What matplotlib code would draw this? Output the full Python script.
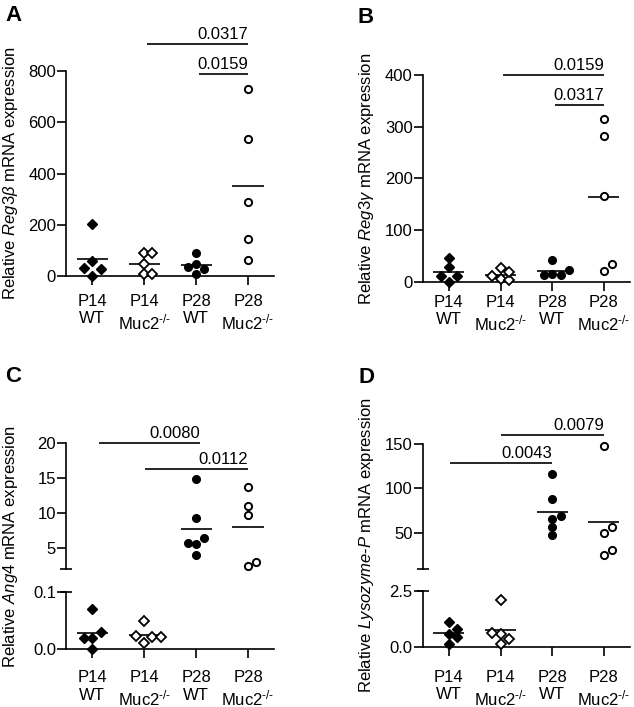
import numpy as np
import matplotlib
matplotlib.use('Agg')
import matplotlib.pyplot as plt

plt.rcParams['font.family'] = ['Liberation Sans', 'DejaVu Sans']
plt.rcParams['mathtext.fontset'] = 'custom'
plt.rcParams['mathtext.rm'] = 'Liberation Sans'
plt.rcParams['mathtext.it'] = 'Liberation Sans:italic'
plt.rcParams['mathtext.bf'] = 'Liberation Sans:bold'
plt.rcParams['mathtext.sf'] = 'Liberation Sans'

# ---------------- data ----------------
groups = ['P14\nWT', 'P14\nMuc2$^{\\text{-/-}}$', 'P28\nWT', 'P28\nMuc2$^{\\text{-/-}}$']

reg3b_p14_wt = [204, 61, 1, 27, 34]
reg3b_p14_ko = [89, 89, 48, 8, 10]
reg3b_p28_wt = [92, 48, 8, 30, 35]
reg3b_p28_ko = [729, 536, 288, 145, 62]

reg3g_p14_wt = [28, 0, 12, 12, 45]
reg3g_p14_ko = [27, 5, 4, 12, 19]
reg3g_p28_wt = [42, 14, 13, 13, 23]
reg3g_p28_ko = [315, 282, 166, 21, 34]

ang4_p14_wt = [0.070, 0.0, 0.019, 0.030, 0.019]
ang4_p14_ko = [0.050, 0.0095, 0.021, 0.022, 0.020]
ang4_p28_wt = [14.9, 9.3, 4.1, 5.55, 6.5, 5.8]
ang4_p28_ko = [13.7, 11.1, 9.7, 2.5, 3.1]

lyz_p14_wt = [1.09, 0.59, 0.13, 0.44, 0.78]
lyz_p14_ko = [2.1, 0.59, 0.13, 0.36, 0.64]
lyz_p28_wt = [115.8, 88, 47.4, 66.2, 69.5, 57.1]
lyz_p28_ko = [147.8, 50, 25.6, 30.5, 56.8]

# p-value brackets: (x start, x end, y, label)
reg3b_pvals = [(1.06, 3.0, 905, '0.0317'), (2.06, 3.0, 786, '0.0159')]
reg3g_pvals = [(1.05, 3.0, 400, '0.0159'), (2.05, 3.0, 342, '0.0317')]
ang4_pvals = [(0.13, 2.08, 20, '0.0080'), (1.02, 3.0, 16.3, '0.0112')]
lyz_pvals = [(0.03, 2.0, 128.4, '0.0043'), (1.0, 3.0, 159.7, '0.0079')]

# ---------------- figure ----------------
W, H = 634, 707
fig = plt.figure(figsize=(W / 100, H / 100), dpi=100)

FS = 12
LW = 1.2
TICKLEN = 6.5


def box(l, r, top, bot):
    return [l / W, 1 - bot / H, (r - l) / W, (bot - top) / H]


styles = [
    dict(marker='D', mfc='black', mec='black', ms=5.0, mew=1.0),
    dict(marker='D', mfc='white', mec='black', ms=5.0, mew=1.3),
    dict(marker='o', mfc='black', mec='black', ms=5.5, mew=1.0),
    dict(marker='o', mfc='white', mec='black', ms=5.2, mew=1.4),
]


def setup(ax, ylim, yticks, yticklabels=None, bottom=True, xpad=4):
    ax.set_xlim(-0.5, 3.5)
    ax.set_ylim(*ylim)
    ax.set_yticks(yticks)
    if yticklabels is not None:
        ax.set_yticklabels(yticklabels)
    for s in ['top', 'right']:
        ax.spines[s].set_visible(False)
    ax.spines['left'].set_linewidth(LW)
    if bottom:
        ax.spines['bottom'].set_linewidth(LW)
        ax.set_xticks(range(4))
        ax.set_xticklabels(groups)
        ax.tick_params(axis='x', length=TICKLEN, width=LW, pad=xpad, labelsize=FS)
    else:
        ax.spines['bottom'].set_visible(False)
        ax.set_xticks([])
    ax.tick_params(axis='y', length=TICKLEN, width=LW, pad=1, labelsize=FS)
    ax.patch.set_visible(False)


def swarm_offsets(ax, values, step=0.16, thr=7.6):
    placed = []
    offs = []
    for v in values:
        ypx = ax.transData.transform((0, v))[1]
        chosen = 0
        for s in [0, 1, -1, 2, -2, 3, -3]:
            if all(not (ps == s and abs(py - ypx) < thr) for ps, py in placed):
                chosen = s
                break
        placed.append((chosen, ypx))
        offs.append(chosen * step)
    return offs


def draw_groups(ax_for_value, data):
    for i, vals in enumerate(data):
        vals = np.asarray(vals, dtype=float)
        buckets = {}
        for v in vals:
            ax = ax_for_value(v)
            buckets.setdefault(id(ax), (ax, []))[1].append(v)
        for ax, vs in buckets.values():
            offs = swarm_offsets(ax, vs)
            ax.plot(i + np.array(offs), vs, ls='none', clip_on=False, zorder=3,
                    **styles[i])
        m = vals.mean()
        axm = ax_for_value(m)
        axm.plot([i - 0.3, i + 0.3], [m, m], color='black', lw=LW, zorder=2,
                 solid_capstyle='butt', clip_on=False)


def brackets(ax, pvals):
    for x0, x1, y, lab in pvals:
        ax.plot([x0, x1], [y, y], color='black', lw=LW, clip_on=False,
                solid_capstyle='butt')
        ax.annotate(lab, xy=(min(x1, 3.0), y), xytext=(0, 3.6),
                    textcoords='offset points', ha='right', va='baseline',
                    fontsize=FS, annotation_clip=False)


def break_marks(ax_up, ax_low):
    ax_up.plot([0], [0], marker='_', ms=8, mew=LW, color='black',
               transform=ax_up.transAxes, clip_on=False)
    ax_low.plot([0], [1], marker='_', ms=8, mew=LW, color='black',
                transform=ax_low.transAxes, clip_on=False)


# ---- Panel A ----
axA = fig.add_axes(box(66.3, 274, 70.7, 276.3))
setup(axA, (0, 800), [0, 200, 400, 600, 800], xpad=6)
draw_groups(lambda v: axA, [reg3b_p14_wt, reg3b_p14_ko, reg3b_p28_wt, reg3b_p28_ko])
brackets(axA, reg3b_pvals)

# ---- Panel B ----
axB = fig.add_axes(box(423, 629.8, 75.3, 281.7))
setup(axB, (0, 400), [0, 100, 200, 300, 400], xpad=3)
draw_groups(lambda v: axB, [reg3g_p14_wt, reg3g_p14_ko, reg3g_p28_wt, reg3g_p28_ko])
brackets(axB, reg3g_pvals)

# ---- Panel C ----
axCu = fig.add_axes(box(66.3, 274, 443.3, 569.3))
axCl = fig.add_axes(box(66.3, 274, 592.3, 648.7))
setup(axCu, (2, 20), [5, 10, 15, 20], bottom=False)
setup(axCl, (0, 0.1), [0.0, 0.1], ['0.0', '0.1'], xpad=9.0)
draw_groups(lambda v: axCl if v <= 0.1 else axCu,
            [ang4_p14_wt, ang4_p14_ko, ang4_p28_wt, ang4_p28_ko])
brackets(axCu, ang4_pvals)
break_marks(axCu, axCl)

# ---- Panel D ----
axDu = fig.add_axes(box(423, 629.8, 443.7, 568.7))
axDl = fig.add_axes(box(423, 629.8, 590.7, 647))
setup(axDu, (10, 150), [50, 100, 150], bottom=False)
setup(axDl, (0, 2.5), [0.0, 2.5], ['0.0', '2.5'], xpad=10.0)
draw_groups(lambda v: axDl if v <= 2.5 else axDu,
            [lyz_p14_wt, lyz_p14_ko, lyz_p28_wt, lyz_p28_ko])
brackets(axDu, lyz_pvals)
break_marks(axDu, axDl)

# ---- y labels ----
ylabels = [
    (10.5, 173.5, 'Relative $\\mathit{Reg3\\beta}$ mRNA expression'),
    (366.5, 178.5, 'Relative $\\mathit{Reg3\\gamma}$ mRNA expression'),
    (10.5, 546, 'Relative $\\mathit{Ang4}$ mRNA expression'),
    (367, 545, 'Relative $\\mathit{Lysozyme}$-$\\mathit{P}$ mRNA expression'),
]
for x, y, t in ylabels:
    fig.text(x / W, 1 - y / H, t, rotation=90, ha='center', va='center', fontsize=FS)

# ---- panel letters ----
for x, y, t in [(5, 20.7, 'A'), (357, 23, 'B'), (5, 381.7, 'C'), (358.7, 383, 'D')]:
    fig.text(x / W, 1 - y / H, t, fontsize=16, fontweight='bold', ha='left', va='baseline')

fig.savefig('out.png', dpi=100)
